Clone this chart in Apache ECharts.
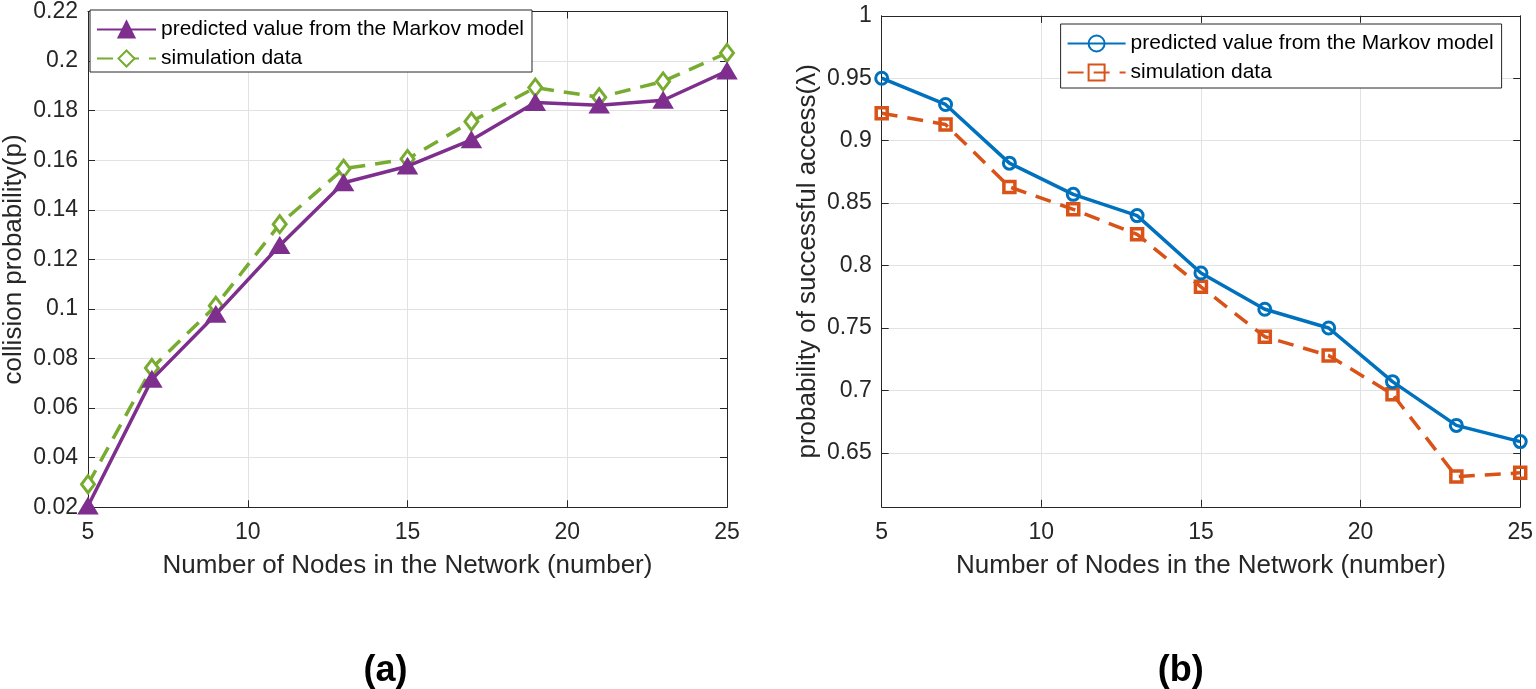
<!DOCTYPE html>
<html><head><meta charset="utf-8">
<script src="https://cdn.jsdelivr.net/npm/echarts@6/dist/echarts.min.js"></script>
<style>html,body{margin:0;padding:0;background:#fff}#c{width:1536px;height:689px}</style>
</head><body><div id="c"></div>
<script>
const nodes = [5, 7, 9, 11, 13, 15, 17, 19, 21, 23, 25];
const collisionPredicted = [0.0205, 0.0716, 0.0978, 0.1256, 0.1509, 0.1576, 0.1682, 0.1833, 0.1822, 0.1842, 0.1960];
const collisionSimulation = [0.0293, 0.0762, 0.1013, 0.1342, 0.1566, 0.1605, 0.1756, 0.1893, 0.1854, 0.1918, 0.2033];
const accessPredicted = [0.950, 0.929, 0.882, 0.857, 0.840, 0.794, 0.765, 0.750, 0.707, 0.672, 0.659];
const accessSimulation = [0.922, 0.913, 0.863, 0.845, 0.825, 0.783, 0.743, 0.728, 0.697, 0.631, 0.634];
const legendNames = ['predicted value from the Markov model', 'simulation data'];
const xTitle = 'Number of Nodes in the Network (number)';
const yTitleA = 'collision probability(p)';
const yTitleB = 'probability of successful access(\u03bb)';
const captions = ['(a)', '(b)'];

const FONT = '"Liberation Sans", Arial, Helvetica, sans-serif';
const AX = '#262626';
const GRIDC = '#e2e2e2';
const fmt = v => String(Math.round(v * 100) / 100);

function xAxes(gi) {
  return [{
    type: 'value', gridIndex: gi, min: 5, max: 25, interval: 5, position: 'bottom',
    axisLine: {lineStyle: {color: AX, width: 1}},
    axisTick: {inside: true, length: 7, lineStyle: {color: AX}},
    axisLabel: {fontSize: 23, color: AX, fontFamily: FONT, margin: 14},
    splitLine: {show: true, lineStyle: {color: GRIDC, width: 1}},
    name: xTitle, nameLocation: 'middle', nameGap: 46,
    nameTextStyle: {fontSize: 26, color: AX, fontFamily: FONT}
  }, {
    type: 'value', gridIndex: gi, min: 5, max: 25, interval: 5, position: 'top',
    axisLine: {lineStyle: {color: AX, width: 1}},
    axisTick: {inside: true, length: 7, lineStyle: {color: AX}},
    axisLabel: {show: false}, splitLine: {show: false}
  }];
}

const yA = {
  type: 'value', gridIndex: 0, min: 0.02, max: 0.22, interval: 0.02,
  axisLine: {show: true, lineStyle: {color: AX, width: 1}},
  axisTick: {show: true, inside: true, length: 7, lineStyle: {color: AX}},
  axisLabel: {fontSize: 23, color: AX, fontFamily: FONT, margin: 10, formatter: fmt},
  splitLine: {show: true, lineStyle: {color: GRIDC, width: 1}},
  name: yTitleA, nameLocation: 'middle', nameGap: 61, nameRotate: 90,
  nameTextStyle: {fontSize: 26, color: AX, fontFamily: FONT}
};
const yA2 = {
  type: 'value', gridIndex: 0, min: 0.02, max: 0.22, interval: 0.02, position: 'right',
  axisLine: {show: true, lineStyle: {color: AX, width: 1}},
  axisTick: {show: true, inside: true, length: 7, lineStyle: {color: AX}},
  axisLabel: {show: false}, splitLine: {show: false}
};
const yB = {
  type: 'value', gridIndex: 1, min: 0.6068, max: 1, minInterval: 0.05, maxInterval: 0.05, splitNumber: 8,
  axisLine: {show: true, lineStyle: {color: AX, width: 1}},
  axisTick: {show: true, inside: true, length: 7, lineStyle: {color: AX}},
  axisLabel: {fontSize: 23, color: AX, fontFamily: FONT, margin: 10, showMinLabel: false,
    formatter: v => (Math.abs(v * 20 - Math.round(v * 20)) < 1e-6 ? fmt(v) : '')},
  splitLine: {show: true, lineStyle: {color: GRIDC, width: 1}},
  name: yTitleB, nameLocation: 'middle', nameGap: 61, nameRotate: 90,
  nameTextStyle: {fontSize: 26, color: AX, fontFamily: FONT}
};
const yB2 = Object.assign({}, yB, {position: 'right', name: '', axisLabel: {show: false}, splitLine: {show: false}});

const pairs = arr => nodes.map((n, i) => [n, arr[i]]);

function legendCfg(left, top, ids, pad, iw) {
  return {
    left: left, top: top, orient: 'vertical', data: ids, selectedMode: false,
    formatter: name => legendNames[name.endsWith('1') ? 0 : 1],
    itemWidth: iw, itemHeight: 20, itemGap: 8, padding: pad,
    borderColor: AX, borderWidth: 1, backgroundColor: '#fff',
    textStyle: {fontSize: 21, color: '#000', fontFamily: FONT}
  };
}

const chart = echarts.init(document.getElementById('c'), null, {renderer: 'canvas'});
chart.setOption({
  animation: false,
  backgroundColor: '#fff',
  grid: [
    {left: 86, top: 7.3, width: 641, height: 500, containLabel: false},
    {left: 881.7, top: 15.8, width: 642.3, height: 491, containLabel: false}
  ],
  xAxis: [...xAxes(0), ...xAxes(1)],
  yAxis: [yA, yA2, yB, yB2],
  legend: [
    legendCfg(90, 10, ['a1', 'a2'], [9, 8, 3, 6], 59),
    legendCfg(1060.6, 24, ['b1', 'b2'], [9, 8, 5, 6], 58)
  ],
  series: [
    {name: 'a1', type: 'line', xAxisIndex: 0, yAxisIndex: 0, data: pairs(collisionPredicted),
     symbol: 'triangle', symbolSize: [18, 15], z: 3,
     lineStyle: {color: '#7E2F8E', width: 3.5},
     itemStyle: {color: '#7E2F8E', borderColor: '#7E2F8E', borderWidth: 2}},
    {name: 'a2', type: 'line', xAxisIndex: 0, yAxisIndex: 0, data: pairs(collisionSimulation),
     symbol: 'diamond', symbolSize: [13, 17], z: 2,
     lineStyle: {color: '#77AC30', width: 3.5, type: [16, 10]},
     itemStyle: {color: '#ffffff', borderColor: '#77AC30', borderWidth: 3}},
    {name: 'b1', type: 'line', xAxisIndex: 2, yAxisIndex: 2, data: pairs(accessPredicted),
     symbol: 'circle', symbolSize: 12, z: 3,
     lineStyle: {color: '#0072BD', width: 3.5},
     itemStyle: {color: 'rgba(255,255,255,0)', borderColor: '#0072BD', borderWidth: 3}},
    {name: 'b2', type: 'line', xAxisIndex: 2, yAxisIndex: 2, data: pairs(accessSimulation),
     symbol: 'rect', symbolSize: 11, z: 2,
     lineStyle: {color: '#D95319', width: 3.5, type: [16, 10]},
     itemStyle: {color: 'rgba(255,255,255,0)', borderColor: '#D95319', borderWidth: 3.5}}
  ],
  graphic: [
    {type: 'text', x: 385.5, y: 671, style: {text: captions[0], font: 'bold 36px ' + FONT, fill: '#000', align: 'center', verticalAlign: 'middle'}},
    {type: 'text', x: 1180.7, y: 671, style: {text: captions[1], font: 'bold 36px ' + FONT, fill: '#000', align: 'center', verticalAlign: 'middle'}}
  ]
});
</script></body></html>
